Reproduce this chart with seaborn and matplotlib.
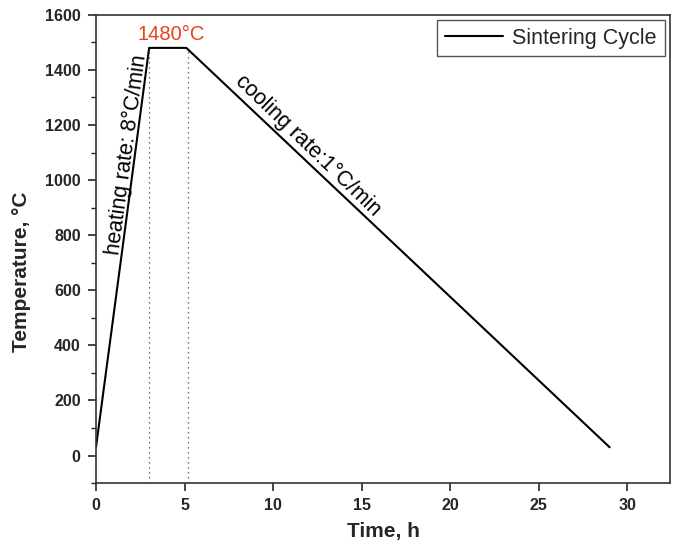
import numpy as np
import pandas as pd
import seaborn as sns
import matplotlib.pyplot as plt
from matplotlib.ticker import MultipleLocator

# Sintering cycle
time_h = [0.0, 3.0, 5.1, 29.0]
temp_c = [30, 1480, 1480, 30]
dwell_marks = [3.0, 5.2]

sns.set_theme(style="ticks")
plt.rcParams['font.family'] = ['Liberation Sans', 'DejaVu Sans']

df = pd.DataFrame({"Time, h": time_h, "Temperature, °C": temp_c})

fig = plt.figure(figsize=(6.76, 5.49), dpi=100)
ax = fig.add_axes([0.142, 0.120, 0.849, 0.853])

sns.lineplot(data=df, x="Time, h", y="Temperature, °C", color="black",
             linewidth=1.5, label="Sintering Cycle", ax=ax)

# dotted guides for the dwell
for xm in dwell_marks:
    ax.plot([xm, xm], [-100, 1480], color="#444444", linestyle=(0, (1, 3)),
            linewidth=0.9)

ax.set_xlim(0, 32.4)
ax.set_ylim(-100, 1600)
ax.set_xticks([0, 5, 10, 15, 20, 25, 30])
ax.set_yticks(np.arange(0, 1601, 200))
ax.yaxis.set_minor_locator(MultipleLocator(100))
ax.tick_params(axis="both", which="major", length=6, width=1.2, labelsize=11.5)
ax.tick_params(axis="y", which="major", pad=5)
ax.tick_params(axis="x", which="major", pad=5)
ax.tick_params(axis="y", which="minor", length=3.5, width=1.0)
for lab in ax.get_xticklabels() + ax.get_yticklabels():
    lab.set_fontweight("bold")

for sp in ax.spines.values():
    sp.set_color("#333333")
    sp.set_linewidth(1.2)

ax.set_xlabel("Time, h", fontsize=15, fontweight="bold", labelpad=6)
ax.set_ylabel("Temperature, °C", fontsize=15, fontweight="bold")
ax.yaxis.set_label_coords(-0.113, 0.451)

ax.text(4.24, 1527, "1480°C", color="#e8401c", fontsize=14.5,
        ha="center", va="center")
ax.text(1.75, 1093, "heating rate: 8°C/min", fontsize=15.5, rotation=82.4,
        ha="center", va="center", color="black")
ax.text(11.98, 1125, "cooling rate:1°C/min", fontsize=15.5, rotation=-44,
        ha="center", va="center", color="black")

leg = ax.legend(loc="upper right", fontsize=15.5, fancybox=False, framealpha=1,
                edgecolor="#555555", handlelength=2.7, handletextpad=0.45,
                borderpad=0.35, borderaxespad=0.25)
leg.get_frame().set_linewidth(1.0)

fig.savefig("out.png", dpi=100)
